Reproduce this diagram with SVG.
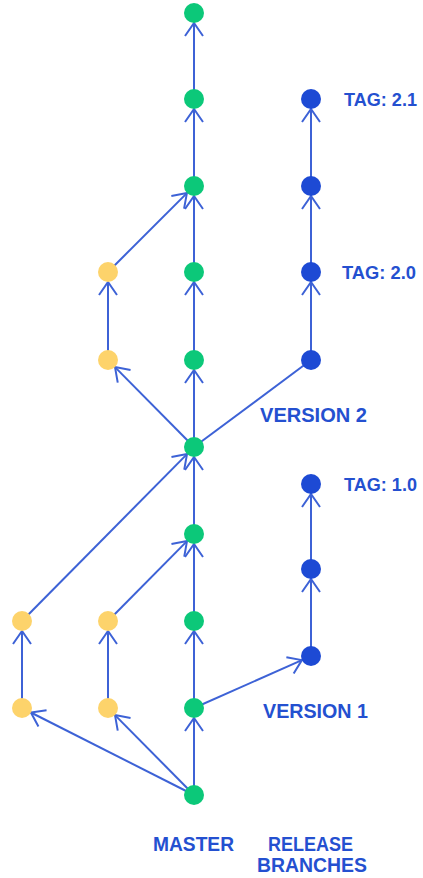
<svg xmlns="http://www.w3.org/2000/svg" width="423" height="878" viewBox="0 0 423 878">
<style>
.e{stroke:#3d62d6;stroke-width:2;fill:none}
.a{marker-end:url(#arr)}
.g{fill:#0cc879}
.y{fill:#fdd36b}
.b{fill:#1d4ad4}
text{font-family:"Liberation Sans",Arial,sans-serif;font-weight:bold;font-size:20px;fill:#2450d0}
.t{font-size:19px}
</style>
<defs>
<marker id="arr" markerUnits="userSpaceOnUse" markerWidth="30" markerHeight="30" viewBox="-15 -15 30 30" refX="0" refY="0" orient="auto">
<path d="M-13,-9 L0,0 L-13,9" fill="none" stroke="#3d62d6" stroke-width="2"/>
</marker>
</defs>
<rect width="423" height="878" fill="#fff"/>
<g id="connectors">
<line class="e a" x1="194" y1="795" x2="194" y2="718"/>
<line class="e a" x1="194" y1="708" x2="194" y2="631"/>
<line class="e a" x1="194" y1="621" x2="194" y2="544"/>
<line class="e a" x1="194" y1="534" x2="194" y2="457"/>
<line class="e a" x1="194" y1="447" x2="194" y2="370"/>
<line class="e a" x1="194" y1="360" x2="194" y2="282"/>
<line class="e a" x1="194" y1="272" x2="194" y2="196"/>
<line class="e a" x1="194" y1="186" x2="194" y2="109"/>
<line class="e a" x1="194" y1="99" x2="194" y2="23"/>
<line class="e a" x1="194" y1="447" x2="115" y2="367.1"/>
<line class="e a" x1="108" y1="360" x2="108" y2="282"/>
<line class="e a" x1="108" y1="272" x2="186.9" y2="193.1"/>
<line class="e" x1="194" y1="447" x2="311" y2="360"/>
<line class="e a" x1="311" y1="360" x2="311" y2="282"/>
<line class="e a" x1="311" y1="272" x2="311" y2="196"/>
<line class="e a" x1="311" y1="186" x2="311" y2="109"/>
<line class="e a" x1="311" y1="656" x2="311" y2="579"/>
<line class="e a" x1="311" y1="569" x2="311" y2="494"/>
<line class="e a" x1="194" y1="708" x2="301.9" y2="660.1"/>
<line class="e a" x1="194" y1="795" x2="30.9" y2="712.5"/>
<line class="e a" x1="194" y1="795" x2="115" y2="715.1"/>
<line class="e a" x1="22" y1="708" x2="22" y2="631"/>
<line class="e a" x1="108" y1="708" x2="108" y2="631"/>
<line class="e a" x1="22" y1="621" x2="187" y2="454.1"/>
<line class="e a" x1="108" y1="621" x2="187" y2="541.1"/>
</g>
<g id="master">
<circle id="m1" class="g" cx="194" cy="13" r="10"/>
<circle id="m2" class="g" cx="194" cy="99" r="10"/>
<circle id="m3" class="g" cx="194" cy="186" r="10"/>
<circle id="m4" class="g" cx="194" cy="272" r="10"/>
<circle id="m5" class="g" cx="194" cy="360" r="10"/>
<circle id="m6" class="g" cx="194" cy="447" r="10"/>
<circle id="m7" class="g" cx="194" cy="534" r="10"/>
<circle id="m8" class="g" cx="194" cy="621" r="10"/>
<circle id="m9" class="g" cx="194" cy="708" r="10"/>
<circle id="m10" class="g" cx="194" cy="795" r="10"/>
</g>
<g id="features">
<circle id="f1" class="y" cx="108" cy="272" r="10"/>
<circle id="f2" class="y" cx="108" cy="360" r="10"/>
<circle id="f3" class="y" cx="22" cy="621" r="10"/>
<circle id="f4" class="y" cx="22" cy="708" r="10"/>
<circle id="f5" class="y" cx="108" cy="621" r="10"/>
<circle id="f6" class="y" cx="108" cy="708" r="10"/>
</g>
<g id="release">
<circle id="r1" class="b" cx="311" cy="99" r="10"/>
<circle id="r2" class="b" cx="311" cy="186" r="10"/>
<circle id="r3" class="b" cx="311" cy="272" r="10"/>
<circle id="r4" class="b" cx="311" cy="360" r="10"/>
<circle id="r5" class="b" cx="311" cy="484" r="10"/>
<circle id="r6" class="b" cx="311" cy="569" r="10"/>
<circle id="r7" class="b" cx="311" cy="656" r="10"/>
</g>
<g id="labels">
<text class="t" x="344" y="106" textLength="73" lengthAdjust="spacingAndGlyphs">TAG: 2.1</text>
<text class="t" x="342" y="279" textLength="74" lengthAdjust="spacingAndGlyphs">TAG: 2.0</text>
<text x="260" y="422" textLength="107" lengthAdjust="spacingAndGlyphs">VERSION 2</text>
<text class="t" x="344" y="491" textLength="73" lengthAdjust="spacingAndGlyphs">TAG: 1.0</text>
<text x="263" y="718" textLength="105" lengthAdjust="spacingAndGlyphs">VERSION 1</text>
<text x="153" y="851" textLength="81" lengthAdjust="spacingAndGlyphs">MASTER</text>
<text x="268" y="851" textLength="85" lengthAdjust="spacingAndGlyphs">RELEASE</text>
<text x="257" y="872" textLength="110" lengthAdjust="spacingAndGlyphs">BRANCHES</text>
</g>
</svg>
